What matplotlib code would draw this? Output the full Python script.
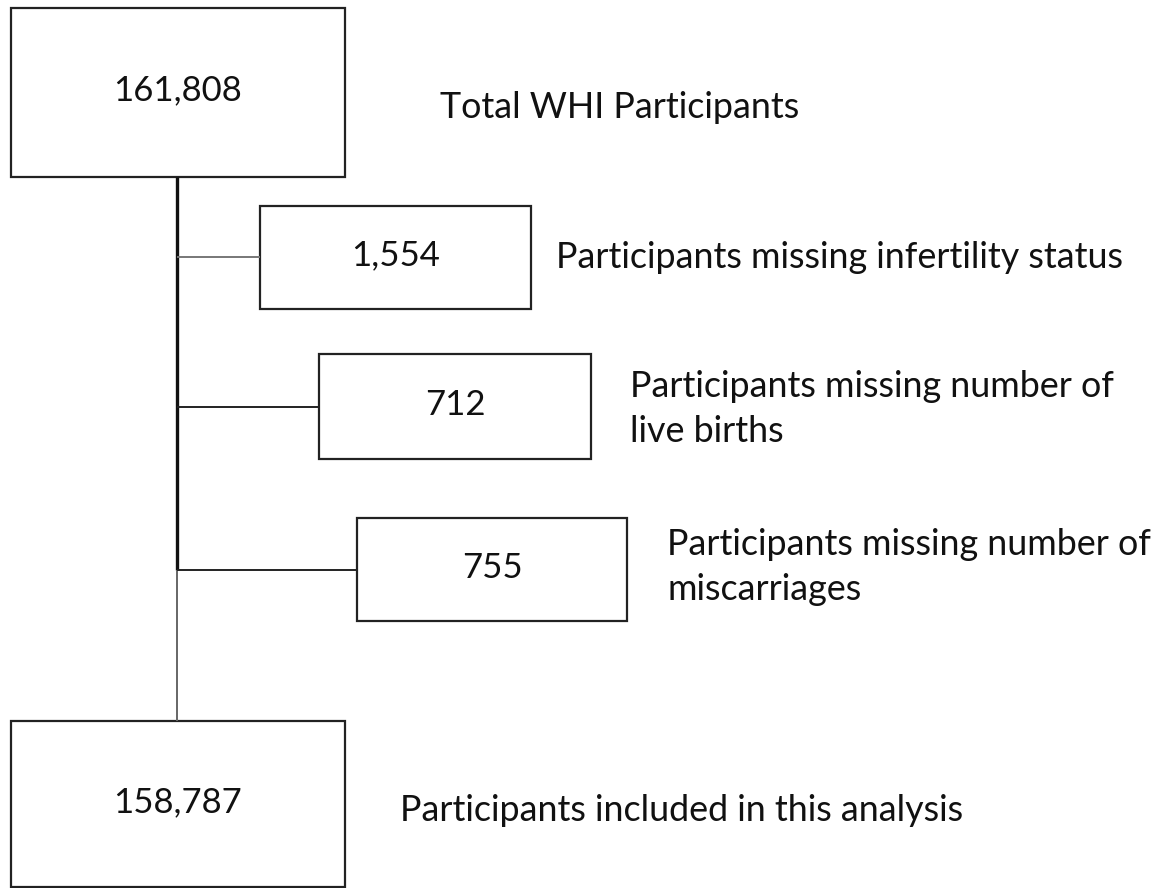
import matplotlib.pyplot as plt
from matplotlib.patches import Rectangle

# flow counts and their descriptions
counts = ["161,808", "1,554", "712", "755", "158,787"]
labels = [
    "Total WHI Participants",
    "Participants missing infertility status",
    "Participants missing number of\nlive births",
    "Participants missing number of\nmiscarriages",
    "Participants included in this analysis",
]

# layout in pixel units (x0, y0, x1, y1), y grows downwards
boxes = [
    (11, 8, 345, 177),
    (260, 206, 531, 309),
    (319, 354, 591, 459),
    (357, 518, 627, 621),
    (11, 721, 345, 887),
]
label_x = [440, 556, 630, 667, 400]
label_y = [107, 257, 409, 567, 810]
trunk_x = 177

W, H = 1173, 888
FONT = "Lato"
FS_NUM = 25
FS_LAB = 25.8

fig = plt.figure(figsize=(W / 100, H / 100), dpi=100)
ax = fig.add_axes([0, 0, 1, 1])
ax.set_xlim(0, W)
ax.set_ylim(H, 0)
ax.axis("off")

for (x0, y0, x1, y1), n, lab, lx, ly in zip(boxes, counts, labels, label_x, label_y):
    ax.add_patch(Rectangle((x0, y0), x1 - x0, y1 - y0, fill=False,
                           edgecolor="#222222", linewidth=1.6))
    ax.text((x0 + x1) / 2, (y0 + y1) / 2 - 2, n, ha="center", va="center",
            fontsize=FS_NUM, family=FONT, color="#111111")
    ax.text(lx, ly, lab, ha="left", va="center", fontsize=FS_LAB, family=FONT,
            color="#111111", linespacing=1.42)

# trunk line from top box down to last exclusion branch, then thinner to bottom box
last_branch = (boxes[3][1] + boxes[3][3]) / 2
ax.plot([trunk_x, trunk_x], [boxes[0][3], last_branch], color="#111111", lw=2.4,
        solid_capstyle="butt")
ax.plot([trunk_x, trunk_x], [last_branch, boxes[4][1]], color="#666666", lw=1.4,
        solid_capstyle="butt")

# branches to exclusion boxes
branch_colors = ["#777777", "#222222", "#222222"]
for (x0, y0, x1, y1), c in zip(boxes[1:4], branch_colors):
    yc = (y0 + y1) / 2
    ax.plot([trunk_x, x0], [yc, yc], color=c, lw=1.4, solid_capstyle="butt")

fig.savefig("out.png", dpi=100, facecolor="white")
